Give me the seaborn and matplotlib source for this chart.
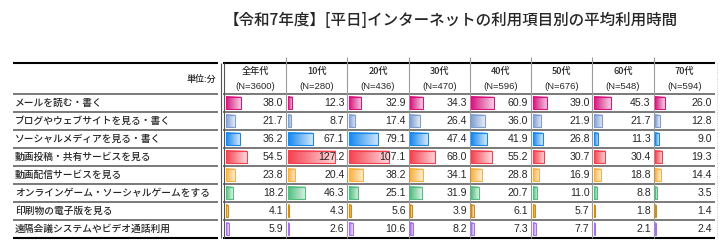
import numpy as np
import seaborn as sns
import matplotlib
matplotlib.use('Agg')
import matplotlib.pyplot as plt
from matplotlib.colors import LinearSegmentedColormap, to_rgb
from matplotlib.transforms import blended_transform_factory

sns.set_style('white')
plt.rcParams['font.family'] = ['Noto Sans CJK JP', 'DejaVu Sans']

title = '【令和7年度】[平日]インターネットの利用項目別の平均利用時間'
items = ['メールを読む・書く', 'ブログやウェブサイトを見る・書く', 'ソーシャルメディアを見る・書く',
         '動画投稿・共有サービスを見る', '動画配信サービスを見る',
         'オンラインゲーム・ソーシャルゲームをする', '印刷物の電子版を見る',
         '遠隔会議システムやビデオ通話利用']
ages = ['全年代', '10代', '20代', '30代', '40代', '50代', '60代', '70代']
n_sizes = [3600, 280, 436, 470, 596, 676, 548, 594]

all_ages = [38.0, 21.7, 36.2, 54.5, 23.8, 18.2, 4.1, 5.9]
age10 = [12.3, 8.7, 67.1, 127.2, 20.4, 46.3, 4.3, 2.6]
age20 = [32.9, 17.4, 79.1, 107.1, 38.2, 25.1, 5.6, 10.6]
age30 = [34.3, 26.4, 47.4, 68.0, 34.1, 31.9, 3.9, 8.2]
age40 = [60.9, 36.0, 41.9, 55.2, 28.8, 20.7, 6.1, 7.3]
age50 = [39.0, 21.9, 26.8, 30.7, 16.9, 11.0, 5.7, 7.7]
age60 = [45.3, 21.7, 11.3, 30.4, 18.8, 8.8, 1.8, 2.1]
age70 = [26.0, 12.8, 9.0, 19.3, 14.4, 3.5, 1.4, 2.4]
columns = [all_ages, age10, age20, age30, age40, age50, age60, age70]

colors = ['#d9127e', '#7f9fd3', '#1688f0', '#f5414f', '#fbb03b', '#4fbf7f', '#d98c00', '#a56ef5']

W, H = 725, 243
fig = plt.figure(figsize=(W / 100, H / 100), dpi=100)

# overlay in pixel coordinates for table lines and texts
ax0 = fig.add_axes([0, 0, 1, 1])
ax0.set_xlim(0, W)
ax0.set_ylim(H, 0)
ax0.axis('off')

top, head_bot, row_h = 63, 94, 18
bottom = head_bot + row_h * len(items)
edges = np.linspace(225, 715, len(ages) + 1)
cell_w = edges[1] - edges[0]

ax0.text(451, 20, title, ha='center', va='center', fontsize=11.2, weight='medium')

# horizontal lines
for x0, x1 in [(13, 218), (223, 715)]:
    ax0.hlines([top, bottom], x0, x1, color='black', lw=1.5)
    ax0.hlines([head_bot + row_h * i for i in range(len(items))], x0, x1, color='#6e6e6e', lw=1.3)
# vertical lines
ax0.vlines([221, 224.5], top, bottom, color='#555555', lw=0.8)
ax0.vlines(edges[1:-1], top - 6, bottom, color='#9a9a9a', lw=0.8)
ax0.vlines(edges[-1] + 2, top, bottom, color='#bbbbbb', lw=0.6, linestyles=':')

ax0.text(216, 79, '単位:分', ha='right', va='center', fontsize=6.5, weight='medium')
for i, (age, n) in enumerate(zip(ages, n_sizes)):
    cx = (edges[i] + edges[i + 1]) / 2
    ax0.text(cx, 71, age, ha='center', va='center', fontsize=6.6, weight='medium')
    ax0.text(cx, 86, f'(N={n})', ha='center', va='center', fontsize=6.8, family='Liberation Sans')
for j, item in enumerate(items):
    ax0.text(15, head_bot + row_h * (j + 0.5), item, ha='left', va='center', fontsize=7,
             weight='medium')

# one small bar chart per age column
px_per_unit = 0.37
x_left = -4
x_right = x_left + cell_w / px_per_unit
grad = np.linspace(0, 1, 64)[None, :]
for i, vals in enumerate(columns):
    ax = fig.add_axes([edges[i] / W, 1 - bottom / H, cell_w / W, (bottom - head_bot) / H])
    sns.barplot(x=vals, y=items, hue=items, palette=colors, orient='h', legend=False,
                width=0.68, saturation=1, linewidth=0.8, ax=ax)
    for p, c in zip(ax.patches, colors):
        base = np.array(to_rgb(c))
        light = base + (1 - base) * 0.8
        cm = LinearSegmentedColormap.from_list('g', [base, light])
        bx, by, bw, bh = p.get_x(), p.get_y(), p.get_width(), p.get_height()
        ax.imshow(grad, extent=(bx, bx + bw, by + bh, by), cmap=cm, aspect='auto', zorder=1)
        p.set_facecolor('none')
        p.set_edgecolor(c)
        p.set_zorder(2)
    tr = blended_transform_factory(ax.transAxes, ax.transData)
    for j, v in enumerate(vals):
        ax.text(1 - 3 / cell_w, j, f'{v:.1f}', transform=tr, ha='right', va='center',
                fontsize=7.6, family='Liberation Sans', zorder=3)
    ax.set_xlim(x_left, x_right)
    ax.set_ylim(len(items) - 0.5, -0.5)
    ax.patch.set_alpha(0)
    ax.axis('off')

fig.savefig('out.png', dpi=100)
